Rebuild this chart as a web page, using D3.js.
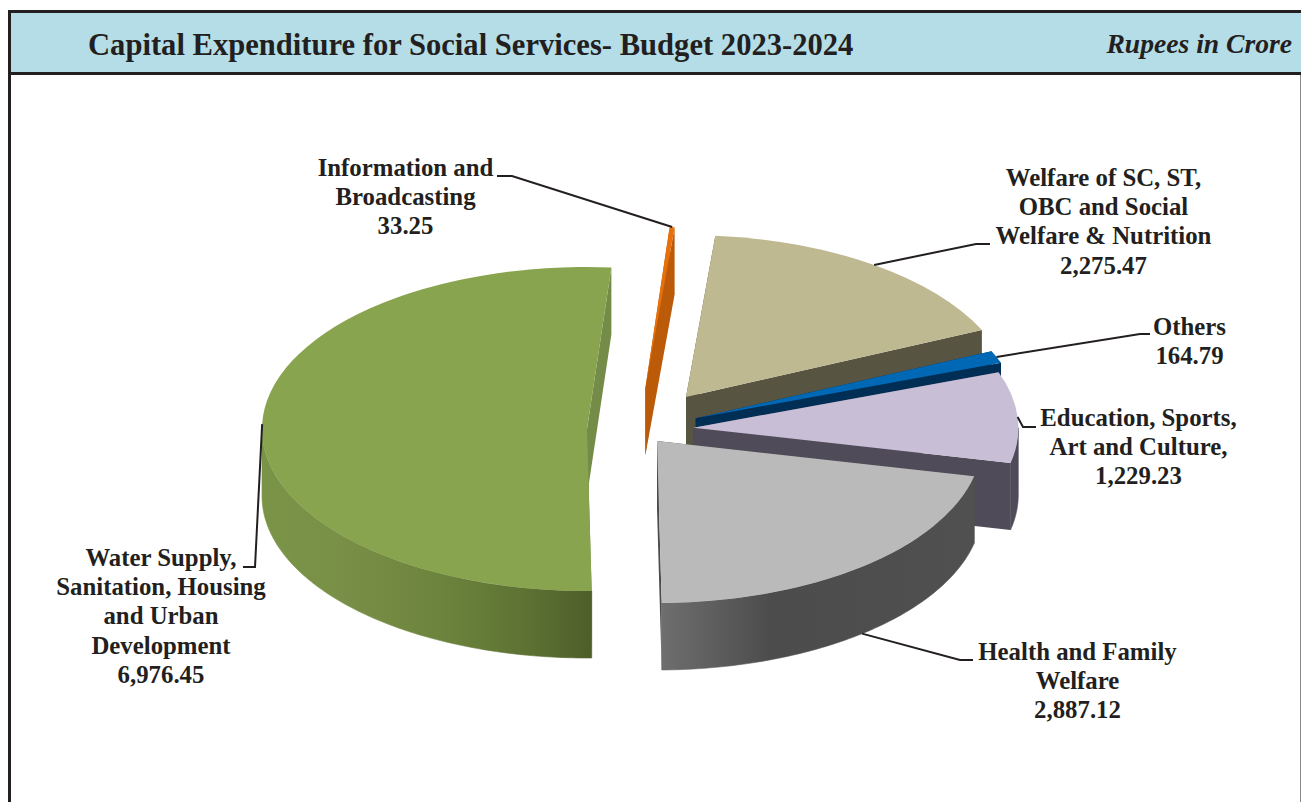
<!DOCTYPE html>
<html>
<head>
<meta charset="utf-8">
<script src="https://cdn.jsdelivr.net/npm/d3@7"></script>
<style>
html,body{margin:0;padding:0;background:#fff;overflow:hidden}
svg{display:block}
text{font-family:"Liberation Serif",serif;fill:#231f20}
</style>
</head>
<body>
<script>
// ---------- data ----------
const categories = [
  "Information and Broadcasting",
  "Welfare of SC, ST, OBC and Social Welfare & Nutrition",
  "Others",
  "Education, Sports, Art and Culture,",
  "Health and Family Welfare",
  "Water Supply, Sanitation, Housing and Urban Development"
];
const values = [33.25, 2275.47, 164.79, 1229.23, 2887.12, 6976.45];
const labelLines = [
  ["Information and", "Broadcasting"],
  ["Welfare of SC, ST,", "OBC and Social", "Welfare & Nutrition"],
  ["Others"],
  ["Education, Sports,", "Art and Culture,"],
  ["Health and Family", "Welfare"],
  ["Water Supply,", "Sanitation, Housing", "and Urban", "Development"]
];
const titleText = "Capital Expenditure for Social Services- Budget 2023-2024";
const unitText = "Rupees in Crore";

// ---------- style and layout ----------
const topColors  = ["#e8700a", "#bfb992", "#0168b5", "#c8bed6", "#bababa", "#88a44f"];
const sideColors = ["#bb5b0a", "#575541", "#012e55", "#4f4b59", "#4b4b4b", "#748c47"];
const sliceCenterX = [645.3, 686, 695.7, 693.3, 657, 587];
const sliceCenterY = [388.5, 397, 418.3, 427.7, 441, 429];
const leaderElbows = [
  [[512, 176], [497, 176]],
  [[976, 244], [990, 244]],
  [[1140, 334], [1150, 334]],
  [[1023, 427], [1036, 427]],
  [[960, 660], [973, 660]],
  [[255, 567], [243, 567]]
];
const leaderOnBase = [0, 0, 0, 0, 1, 0];
const labelX = [405.5, 1103.5, 1189.5, 1138.5, 1077.5, 161];
const labelY = [176, 186, 335, 426, 660, 566];
const radiusX = 325, radiusY = 162, depth = 67, startDeg = 4.3;
const lineStep = 29.2;
const rad = d => d * Math.PI / 180;
const ink = "#231f20";

const svg = d3.select("body").append("svg").attr("width", 1301).attr("height", 802);
const defs = svg.append("defs");
function gradient(id, x1, x2, stops) {
  const g = defs.append("linearGradient").attr("id", id)
    .attr("gradientUnits", "userSpaceOnUse")
    .attr("x1", x1).attr("x2", x2).attr("y1", 0).attr("y2", 0);
  stops.forEach(([o, c]) => g.append("stop").attr("offset", o).attr("stop-color", c));
}
gradient("wallGreen", 262, 592, [[0, "#7a9447"], [0.25, "#798f47"], [0.55, "#6c833d"], [0.8, "#5d7233"], [1, "#4e5e2a"]]);
gradient("wallGray", 662, 974, [[0, "#6e6e6e"], [0.35, "#4c4c4c"], [1, "#505050"]]);
const wallFills = [null, null, null, sideColors[3], "url(#wallGray)", "url(#wallGreen)"];

// ---------- header and frame ----------
svg.append("rect").attr("x", 9).attr("y", 12).attr("width", 1292).attr("height", 61).attr("fill", "#b5dde8");
svg.append("line").attr("x1", 8).attr("x2", 1301).attr("y1", 11.5).attr("y2", 11.5).attr("stroke", ink).attr("stroke-width", 3);
svg.append("line").attr("x1", 8).attr("x2", 1301).attr("y1", 73.5).attr("y2", 73.5).attr("stroke", ink).attr("stroke-width", 3);
svg.append("line").attr("x1", 9.5).attr("x2", 9.5).attr("y1", 10).attr("y2", 802).attr("stroke", ink).attr("stroke-width", 3);
svg.append("line").attr("x1", 1300.5).attr("x2", 1300.5).attr("y1", 75).attr("y2", 802).attr("stroke", "#8a8a8a").attr("stroke-width", 1);
svg.append("text").attr("x", 88).attr("y", 55).attr("font-size", 30.6)
  .attr("font-weight", "bold").text(titleText);
svg.append("text").attr("x", 1292).attr("y", 53).attr("text-anchor", "end").attr("font-size", 27.6)
  .attr("font-weight", "bold").attr("font-style", "italic").text(unitText);

// ---------- pie ----------
const pie = d3.pie().sort(null).value(d => d)
  .startAngle(rad(startDeg)).endAngle(rad(startDeg + 360));
const arcs = pie(values);
const arc = d3.arc().innerRadius(0).outerRadius(radiusX);
const squash = radiusY / radiusX;
const rimX = (i, a) => sliceCenterX[i] + radiusX * Math.sin(a);
const rimY = (i, a) => sliceCenterY[i] - radiusY * Math.cos(a);

const closed = d3.line().curve(d3.curveLinearClosed);
function cutFace(i, a) {
  const cx = sliceCenterX[i], cy = sliceCenterY[i];
  return closed([[cx, cy], [rimX(i, a), rimY(i, a)], [rimX(i, a), rimY(i, a) + depth], [cx, cy + depth]]);
}
const wallArea = i => d3.area()
  .x(a => rimX(i, a))
  .y0(a => rimY(i, a))
  .y1(a => rimY(i, a) + depth);

const slices = svg.append("g").selectAll("g").data(arcs).join("g");
slices.each(function (d, i) {
  const g = d3.select(this);
  g.append("path").attr("d", cutFace(i, d.startAngle)).attr("fill", sideColors[i]);
  g.append("path").attr("d", cutFace(i, d.endAngle)).attr("fill", sideColors[i]);
  const a0 = Math.max(d.startAngle, rad(90)), a1 = Math.min(d.endAngle, rad(270));
  if (a1 > a0) {
    g.append("path")
      .attr("d", wallArea(i)(d3.range(0, 81).map(k => a0 + (a1 - a0) * k / 80)))
      .attr("fill", wallFills[i]).attr("stroke", wallFills[i]).attr("stroke-width", 0.6);
  }
  g.append("path")
    .attr("transform", `translate(${sliceCenterX[i]},${sliceCenterY[i]}) scale(1,${squash})`)
    .attr("d", arc(d))
    .attr("fill", topColors[i]);
});

// ---------- leaders and labels ----------
const leader = d3.line();
const formatValue = d3.format(",.2f");
arcs.forEach((d, i) => {
  const mid = (d.startAngle + d.endAngle) / 2;
  const start = [rimX(i, mid), rimY(i, mid) + leaderOnBase[i] * depth];
  svg.append("path").attr("d", leader([start, ...leaderElbows[i]]))
    .attr("fill", "none").attr("stroke", ink).attr("stroke-width", 2);
  const t = svg.append("text").attr("text-anchor", "middle").attr("font-size", 24.8)
    .attr("font-weight", "bold");
  [...labelLines[i], formatValue(values[i])].forEach((line, k) => {
    t.append("tspan").attr("x", labelX[i]).attr("y", labelY[i] + k * lineStep).text(line);
  });
});
</script>
</body>
</html>
